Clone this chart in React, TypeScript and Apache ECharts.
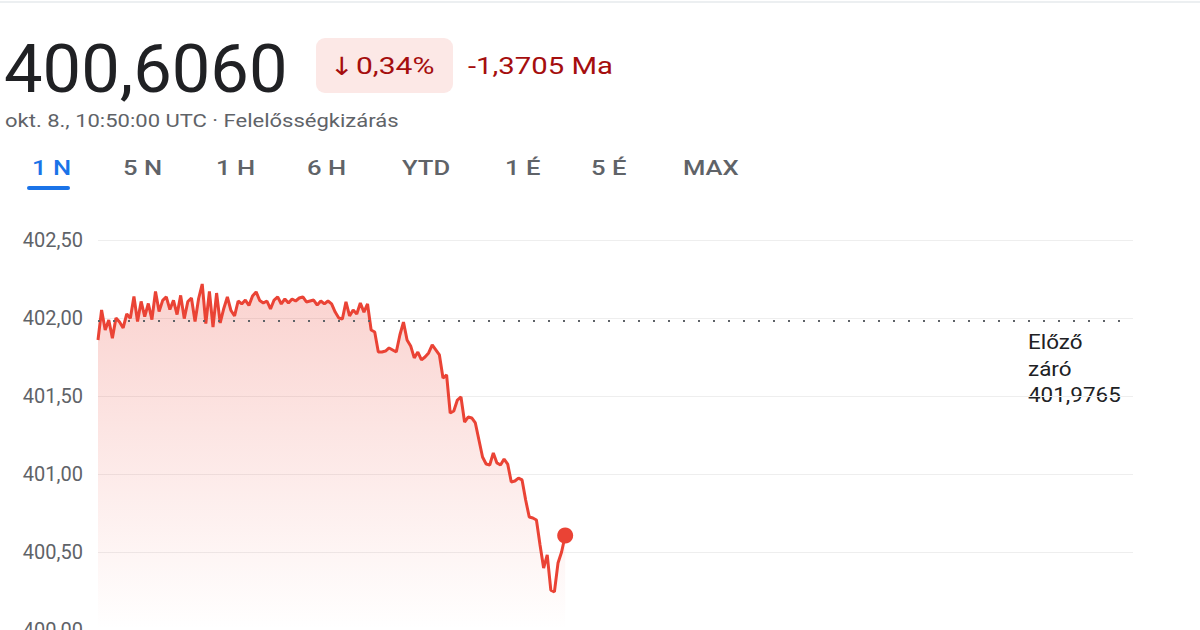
import React, { useEffect, useRef } from "react";
import * as echarts from "echarts";

// Prices every 5 minutes from 00:00 UTC to 10:50 UTC (1 N view)
const PRICES: number[] = [
  401.859, 402.051, 401.923, 401.987, 401.871, 402.0, 401.974, 401.936, 402.026, 401.999,
  402.138, 401.977, 402.106, 402.009, 402.093, 401.99, 402.17, 402.041, 402.113, 402.135,
  402.054, 402.113, 402.022, 402.145, 401.996, 402.106, 402.128, 401.977, 402.125, 402.218,
  401.964, 402.17, 401.942, 402.16, 401.968, 402.061, 402.135, 402.048, 402.013, 402.109,
  402.09, 402.115, 402.08, 402.141, 402.167, 402.112, 402.096, 402.109, 402.058, 402.115,
  402.135, 402.09, 402.122, 402.096, 402.122, 402.109, 402.128, 402.135, 402.103, 402.109,
  402.115, 402.083, 402.109, 402.09, 402.109, 402.09, 402.038, 402.0, 401.994, 402.103,
  402.013, 402.051, 402.026, 402.096, 402.038, 402.09, 401.923, 401.91, 401.782, 401.782,
  401.788, 401.808, 401.795, 401.782, 401.891, 401.974, 401.859, 401.821, 401.744, 401.782,
  401.731, 401.75, 401.776, 401.827, 401.795, 401.763, 401.615, 401.635, 401.391, 401.404,
  401.474, 401.494, 401.333, 401.365, 401.359, 401.327, 401.218, 401.109, 401.064, 401.058,
  401.135, 401.071, 401.058, 401.096, 401.064, 400.949, 400.955, 400.974, 400.962, 400.833,
  400.724, 400.718, 400.705, 400.545, 400.397, 400.481, 400.256, 400.244, 400.429, 400.5,
  400.606,
];

const PREV_CLOSE = 401.9765;
const Y_MIN = 400;
const Y_MAX = 402.5;
const Y_STEP = 0.5;

const TABS: string[] = ["1 N", "5 N", "1 H", "6 H", "YTD", "1 É", "5 É", "MAX"];
const TAB_X: number[] = [32, 123, 216, 307, 402, 505, 591, 683];

const PRICE_TEXT = "400,6060";
const CHANGE_ARROW = "↓";
const CHANGE_PCT = "0,34%";
const CHANGE_ABS = "-1,3705 Ma";
const SUBTITLE = "okt. 8., 10:50:00 UTC · Felelősségkizárás";
const PREV_LABEL = ["Előző", "záró", "401,9765"];

// 5-minute slots of the day, 00:00 .. 24:00
const TIME_LABELS: string[] = [];
for (let m = 0; m <= 1440; m += 5) {
  const h = Math.floor(m / 60);
  const mm = m % 60;
  TIME_LABELS.push(`${String(h).padStart(2, "0")}:${String(mm).padStart(2, "0")}`);
}

const RED = "#ea4335";
const FONT = "Roboto, 'Noto Sans', Arial, sans-serif";

export default function App() {
  const ref = useRef<HTMLDivElement>(null);
  useEffect(() => {
    if (!ref.current) return;
    const chart = echarts.init(ref.current, undefined, { renderer: "svg" });
    const last = PRICES.length - 1;

    const tabGraphics: any[] = TABS.map((t, i) => ({
      type: "text",
      x: TAB_X[i],
      y: 168,
      scaleX: 1.22,
      style: {
        text: t,
        fontSize: 21,
        fontWeight: 500,
        fontFamily: FONT,
        fill: i === 0 ? "#1a73e8" : "#5f6368",
        textVerticalAlign: "middle",
        textAlign: "left",
      },
    }));

    chart.setOption({
      animation: false,
      backgroundColor: "#ffffff",
      grid: {
        left: 98,
        right: 67,
        top: 240,
        bottom: 0,
        containLabel: false,
        outerBoundsMode: "none",
      },
      xAxis: {
        type: "category",
        data: TIME_LABELS,
        boundaryGap: false,
        show: false,
      },
      yAxis: {
        type: "value",
        min: Y_MIN,
        max: Y_MAX,
        interval: Y_STEP,
        axisLine: { show: false },
        axisTick: { show: false },
        axisLabel: {
          color: "#5f6368",
          fontSize: 20,
          fontFamily: FONT,
          margin: 15,
          formatter: (v: number) => v.toFixed(2).replace(".", ","),
        },
        splitLine: { lineStyle: { color: "#eeeeee", width: 1 } },
      },
      series: [
        {
          type: "line",
          data: PRICES,
          showSymbol: false,
          symbol: "none",
          lineStyle: { color: RED, width: 3 },
          itemStyle: { color: RED },
          areaStyle: {
            color: new echarts.graphic.LinearGradient(0, 0, 0, 1, [
              { offset: 0, color: "rgba(234,67,53,0.34)" },
              { offset: 1, color: "rgba(234,67,53,0.0)" },
            ]),
          },
          markLine: {
            silent: true,
            symbol: ["none", "none"],
            label: { show: false },
            lineStyle: { color: "#5f6368", type: [2, 13], width: 2 },
            data: [{ yAxis: PREV_CLOSE }],
          },
          z: 3,
        },
        {
          type: "scatter",
          data: [[last, PRICES[last]]],
          symbol: "circle",
          symbolSize: 16,
          itemStyle: { color: RED, opacity: 1 },
          z: 4,
        },
      ],
      graphic: [
        {
          type: "rect",
          shape: { x: 0, y: 1, width: 1200, height: 2 },
          style: { fill: "#eceff1" },
        },
        {
          type: "text",
          x: 4,
          y: 69,
          scaleX: 1.04,
          style: {
            text: PRICE_TEXT,
            fontSize: 66,
            fontFamily: FONT,
            fill: "#202124",
            textVerticalAlign: "middle",
          },
        },
        {
          type: "rect",
          shape: { x: 316, y: 38, width: 137, height: 55, r: 9 },
          style: { fill: "#fce8e6" },
        },
        {
          type: "text",
          x: 330,
          y: 66,
          scaleX: 1.15,
          style: {
            text: CHANGE_ARROW,
            fontSize: 25,
            fontFamily: "'DejaVu Sans', sans-serif",
            fill: "#a50e0e",
            textVerticalAlign: "middle",
          },
        },
        {
          type: "text",
          x: 356,
          y: 66,
          scaleX: 1.25,
          style: {
            text: CHANGE_PCT,
            fontSize: 24,
            fontFamily: FONT,
            fill: "#a50e0e",
            textVerticalAlign: "middle",
          },
        },
        {
          type: "text",
          x: 468,
          y: 66,
          scaleX: 1.22,
          style: {
            text: CHANGE_ABS,
            fontSize: 24,
            fontFamily: FONT,
            fill: "#a50e0e",
            textVerticalAlign: "middle",
          },
        },
        {
          type: "text",
          x: 5,
          y: 121,
          scaleX: 1.19,
          style: {
            text: SUBTITLE,
            fontSize: 18.5,
            fontFamily: FONT,
            fill: "#5f6368",
            textVerticalAlign: "middle",
          },
        },
        ...tabGraphics,
        {
          type: "rect",
          shape: { x: 27, y: 186, width: 43, height: 4, r: 2 },
          style: { fill: "#1a73e8" },
        },
        ...PREV_LABEL.map((t, i) => ({
          type: "text",
          x: 1028,
          y: 342 + i * 26.5,
          scaleX: 1.07,
          style: {
            text: t,
            fontSize: 21,
            fontFamily: FONT,
            fill: "#202124",
            textVerticalAlign: "middle",
          },
        })),
      ],
    });
    return () => chart.dispose();
  }, []);

  return (
    <div
      ref={ref}
      style={{ position: "fixed", left: 0, top: 0, width: 1200, height: 630, background: "#fff" }}
    />
  );
}
